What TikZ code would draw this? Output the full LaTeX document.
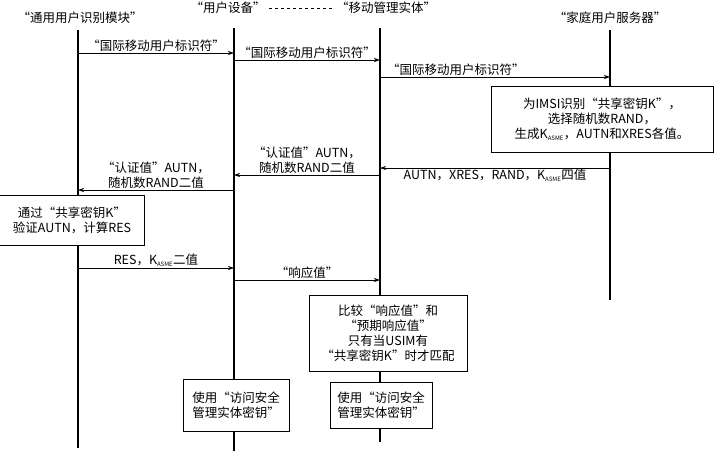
\documentclass[tikz,border=0pt]{standalone}
\usepackage{fontspec}
\setmainfont{Liberation Serif}
\newfontfamily\cjk{Noto Sans CJK SC}
\usetikzlibrary{arrows.meta}
\begin{document}
\begin{tikzpicture}[x=1pt,y=-1pt,font=\cjk\fontsize{12.5}{15}\selectfont,
  life/.style={line width=1.4pt},
  msg/.style={-{Stealth[length=6pt,width=4pt]},line width=0.6pt},
  lbl/.style={inner sep=1pt},
  box/.style={draw,line width=0.6pt,fill=white,align=center,inner sep=1pt}]
\useasboundingbox (0,0) rectangle (714,451);
\newcommand{\KA}{K\textsubscript{\fontsize{6}{6}\selectfont ASME}}
\node (h1) at (80,18) {“通用用户识别模块”};
\node (h2) at (228,8) {“用户设备”};
\node (h3) at (386,8) {“移动管理实体”};
\node (h4) at (610,18) {“家庭用户服务器”};
\draw[dashed,line width=0.8pt] (h2.east) -- (h3.west);
\coordinate (a0) at (78,30); \coordinate (a1) at (78,448);
\coordinate (b0) at (234,28); \coordinate (b1) at (234,451);
\coordinate (c0) at (380,28); \coordinate (c1) at (380,442);
\coordinate (d0) at (610,30); \coordinate (d1) at (610,300);
\draw[life] (a0) -- (a1); \draw[life] (b0) -- (b1);
\draw[life] (c0) -- (c1); \draw[life] (d0) -- (d1);
\coordinate (m1a) at (78,53); \coordinate (m1b) at (234,53);
\draw[msg] (m1a) -- (m1b) node[lbl,midway,above] {“国际移动用户标识符”};
\coordinate (m2a) at (234,60); \coordinate (m2b) at (380,60);
\draw[msg] (m2a) -- (m2b) node[lbl,midway,above] {“国际移动用户标识符”};
\coordinate (m3a) at (380,77); \coordinate (m3b) at (610,77);
\draw[msg] (m3a) -- (m3b) node[lbl,pos=0.33,above] {“国际移动用户标识符”};
\node[box,minimum width=222pt,minimum height=66pt] (hb) at (602,119) {为IMSI识别“共享密钥K”，\\选择随机数RAND，\\生成\KA，AUTN和XRES各值。};
\coordinate (m4a) at (610,168); \coordinate (m4b) at (380,168);
\draw[msg] (m4a) -- (m4b) node[lbl,midway,below] {AUTN，XRES，RAND，\KA 四值};
\coordinate (m5a) at (380,175); \coordinate (m5b) at (234,175);
\draw[msg] (m5a) -- (m5b) node[lbl,midway,above,align=center] {“认证值”AUTN，\\随机数RAND二值};
\coordinate (m6a) at (234,190); \coordinate (m6b) at (78,190);
\draw[msg] (m6a) -- (m6b) node[lbl,midway,above,align=center] {“认证值”AUTN，\\随机数RAND二值};
\node[box,minimum width=145pt,minimum height=50pt] (ub) at (72,220) {通过“共享密钥K”\\验证AUTN，计算RES};
\coordinate (m7a) at (78,268); \coordinate (m7b) at (234,268);
\draw[msg] (m7a) -- (m7b) node[lbl,midway,above] {RES，\KA 二值};
\coordinate (m8a) at (234,280); \coordinate (m8b) at (380,280);
\draw[msg] (m8a) -- (m8b) node[lbl,midway,above] {“响应值”};
\node[box,minimum width=158pt,minimum height=76pt] (mb) at (388,333) {比较“响应值”和\\“预期响应值”\\只有当USIM有\\“共享密钥K”时才匹配};
\node[box,minimum width=106pt,minimum height=52pt] (eb2) at (236,405) {使用“访问安全\\管理实体密钥”};
\node[box,minimum width=102pt,minimum height=46pt] (mb2) at (381,405) {使用“访问安全\\管理实体密钥”};
\end{tikzpicture}
\end{document}
